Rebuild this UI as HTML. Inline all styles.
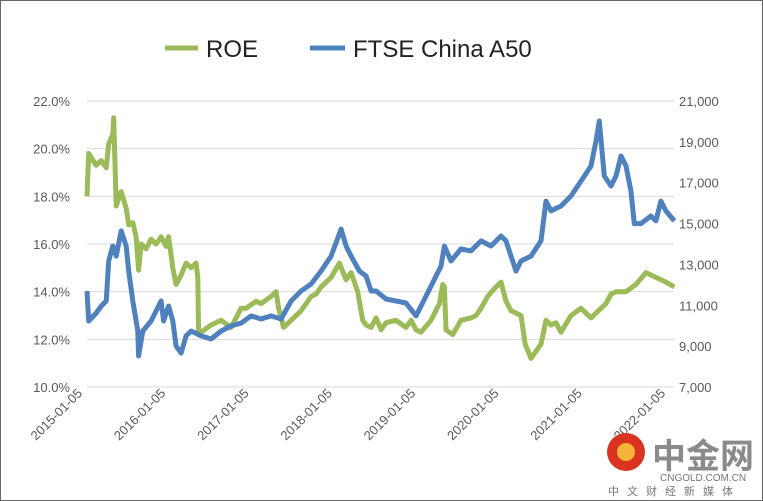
<!DOCTYPE html>
<html><head><meta charset="utf-8"><style>
body{margin:0;background:#fff;}
#wrap{position:relative;width:761px;height:499px;border:1px solid #666;overflow:hidden;font-family:"Liberation Sans","Noto Sans CJK SC",sans-serif;}
</style></head><body>
<div id="wrap">
<svg id="chart" width="761" height="499"></svg>
</div>
<script>
const roeT=[0,.02,.11,.17,.23,.26,.31,.32,.35,.41,.47,.50,.55,.59,.62,.65,.71,.77,.83,.89,.95,.98,1.03,1.07,1.13,1.19,1.25,1.31,1.33,1.34,1.37,1.49,1.61,1.73,1.85,1.91,2.03,2.09,2.21,2.27,2.30,2.36,2.45,2.57,2.69,2.75,2.81,2.93,3.03,3.11,3.17,3.25,3.31,3.35,3.41,3.47,3.53,3.59,3.71,3.83,3.89,3.95,4.01,4.13,4.23,4.27,4.29,4.31,4.39,4.49,4.61,4.67,4.73,4.81,4.91,4.97,5.03,5.09,5.21,5.26,5.33,5.45,5.51,5.57,5.63,5.69,5.81,5.93,6.05,6.11,6.23,6.29,6.35,6.47,6.59,6.71,6.83,6.95,7.05];
const roeV=[18.0,19.8,19.3,19.5,19.2,20.2,20.6,21.3,17.6,18.2,17.5,16.8,16.9,16.3,14.9,16.0,15.8,16.2,16.0,16.3,15.9,16.3,15.0,14.3,14.7,15.2,15.0,15.2,14.6,12.2,12.3,12.6,12.8,12.5,13.3,13.3,13.6,13.5,13.8,14.0,13.3,12.5,12.8,13.2,13.8,13.9,14.2,14.6,15.2,14.5,14.8,14.0,12.8,12.6,12.5,12.9,12.4,12.7,12.8,12.5,12.8,12.4,12.3,12.8,13.5,14.3,14.2,12.4,12.2,12.8,12.9,13.0,13.3,13.8,14.2,14.4,13.6,13.2,13.0,11.8,11.2,11.8,12.8,12.6,12.7,12.3,13.0,13.3,12.9,13.1,13.5,13.9,14.0,14.0,14.3,14.8,14.6,14.4,14.2];
const ftT=[0,.02,.11,.17,.23,.26,.31,.35,.41,.47,.50,.55,.61,.62,.67,.77,.83,.89,.92,.98,1.03,1.07,1.13,1.19,1.25,1.37,1.49,1.61,1.73,1.85,1.97,2.09,2.21,2.33,2.45,2.57,2.69,2.81,2.93,3.05,3.11,3.17,3.27,3.35,3.41,3.47,3.59,3.71,3.83,3.95,4.01,4.13,4.25,4.29,4.37,4.49,4.61,4.73,4.85,4.97,5.03,5.09,5.15,5.21,5.33,5.45,5.51,5.57,5.69,5.81,5.93,6.05,6.11,6.15,6.21,6.29,6.35,6.41,6.47,6.53,6.57,6.65,6.77,6.83,6.89,6.95,7.05];
const ftV=[11700,10230,10620,10960,11210,13170,13900,13410,14640,13900,12680,11210,9740,8520,9740,10230,10720,11210,10230,10960,10230,9000,8660,9500,9740,9500,9350,9740,9990,10130,10480,10330,10480,10330,11210,11700,12040,12680,13410,14730,13900,13410,12680,12430,11700,11700,11310,11210,11110,10480,10960,11940,12920,13900,13170,13760,13660,14150,13900,14390,14150,13410,12680,13170,13410,14150,16100,15620,15860,16350,17080,17820,19040,20020,17330,16840,17330,18310,17820,16600,15000,15000,15370,15130,16100,15620,15130];
const yLTicks=["10.0%","12.0%","14.0%","16.0%","18.0%","20.0%","22.0%"];
const yRTicks=["7,000","9,000","11,000","13,000","15,000","17,000","19,000","21,000"];
const xTicks=["2015-01-05","2016-01-05","2017-01-05","2018-01-05","2019-01-05","2020-01-05","2021-01-05","2022-01-05"];

const NS="http://www.w3.org/2000/svg";
const svg=document.getElementById('chart');
const X=t=>86+83.3*t;
const YL=v=>386-(v-10)*(286/12);
const YR=v=>386-(v-7000)*(286/14000);
function mk(tag,attrs,parent){const e=document.createElementNS(NS,tag);for(const k in attrs)e.setAttribute(k,attrs[k]);(parent||svg).appendChild(e);return e;}

yLTicks.forEach((s,i)=>{
  const v=10+2*i,y=YL(v);
  const g=mk('line',{x1:86,x2:673,y1:y,y2:y,stroke:'#d9d9d9','stroke-width':1});
  
  
  const t=mk('text',{x:69,y:y+5,'text-anchor':'end','font-size':13,fill:'#595959'});t.textContent=s;
  
  
});
yRTicks.forEach((s,i)=>{
  const v=7000+2000*i,y=YR(v);
  const t=mk('text',{x:678,y:y+5,'font-size':13,fill:'#595959'});t.textContent=s;
  
  
});
xTicks.forEach((s,i)=>{
  const x=X(i)-4,y=393;
  const t=mk('text',{x:x,y:y,'text-anchor':'end','font-size':13,fill:'#595959',transform:`rotate(-45 ${x} ${y})`});t.textContent=s;
  
  
});
function path(ts,vs,yf){return ts.map((t,i)=>(i?'L':'M')+X(t).toFixed(1)+','+yf(vs[i]).toFixed(1)).join('');}
const pr=mk('path',{d:path(roeT,roeV,YL),fill:'none',stroke:'#9bbb59','stroke-width':5,'stroke-linejoin':'round'});


const pf=mk('path',{d:path(ftT,ftV,YR),fill:'none',stroke:'#4f81bd','stroke-width':5,'stroke-linejoin':'round'});


</script>
<svg style="position:absolute;left:0;top:0" width="761" height="499">
<g>
<line x1="165" y1="48" x2="198" y2="48" stroke="#9bbb59" stroke-width="5"/>
<text x="206" y="57" font-size="24" fill="#222" font-family="Liberation Sans,sans-serif">ROE</text></g>
<g>
<line x1="310" y1="48" x2="345" y2="48" stroke="#4f81bd" stroke-width="5"/>
<text x="353" y="57" font-size="24" fill="#222" font-family="Liberation Sans,sans-serif">FTSE China A50</text></g>
<g>
<circle cx="626" cy="452" r="19" fill="#d9341f"/>
<circle cx="626" cy="452" r="9" fill="#f6b53a"/>
<text x="652" y="468" font-size="34" fill="#8a8a8a" font-family="Noto Sans CJK SC,sans-serif" font-weight="bold">中金网</text>
<text x="660" y="481" font-size="10" fill="#777" font-family="Liberation Sans,sans-serif">CNGOLD.COM.CN</text>
<text x="608" y="495" font-size="11" fill="#777" letter-spacing="8" font-family="Noto Sans CJK SC,sans-serif">中文财经新媒体</text>
</g></svg>
</body></html>
